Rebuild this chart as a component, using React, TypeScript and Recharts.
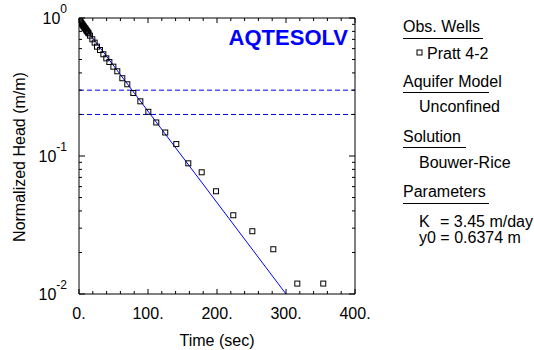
import { ComposedChart, Line, ReferenceLine, Scatter, XAxis, YAxis } from 'recharts';

// observed normalized head, Pratt 4-2
const OBS_TIME = [1, 2, 3, 4, 5, 6, 7, 8, 9, 10, 11, 12, 13, 14, 16, 19.3, 22.7, 26.1, 30.4, 35.3, 39.6, 44, 49.8, 55.5, 62.8, 70, 78.7, 88.9, 100.5, 112, 125, 141, 158.4, 177.8, 198.6, 223.6, 251.2, 281.6, 316.4, 354];
const OBS_HEAD = [0.955, 0.94, 0.925, 0.91, 0.895, 0.88, 0.865, 0.85, 0.84, 0.825, 0.81, 0.8, 0.785, 0.775, 0.745, 0.701, 0.663, 0.62, 0.586, 0.546, 0.51, 0.48, 0.444, 0.411, 0.366, 0.331, 0.286, 0.249, 0.209, 0.175, 0.148, 0.122, 0.0885, 0.0762, 0.0555, 0.0372, 0.0285, 0.0211, 0.0119, 0.0119];

// Bouwer-Rice fit (straight on semi-log)
const FIT_TIME = [0, 300];
const FIT_HEAD = [0.97, 0.01];

const CRITICAL_HEADS = [0.3, 0.2];

const X_TICKS = [0, 20, 40, 60, 80, 100, 120, 140, 160, 180, 200, 220, 240, 260, 280, 300, 320, 340, 360, 380, 400];
const X_LABELS = [0, 100, 200, 300, 400];
const Y_TICKS = [0.01, 0.02, 0.03, 0.04, 0.05, 0.06, 0.07, 0.08, 0.09, 0.1, 0.2, 0.3, 0.4, 0.5, 0.6, 0.7, 0.8, 0.9, 1];
const Y_DECADES = [0.01, 0.1, 1];

const obsData = OBS_TIME.map((t, i) => ({ t, h: OBS_HEAD[i] }));
const fitData = FIT_TIME.map((t, i) => ({ t, h: FIT_HEAD[i] }));

const FONT = "'Liberation Sans', Arial, sans-serif";
const BLUE = '#0000ff';

function BottomTick({ x, y, payload }: any) {
    const major = X_LABELS.includes(payload.value);
    return (
        <g>
            <line x1={x} x2={x} y1={y} y2={y - (major ? 5 : 3)} stroke="#000" />
            {major && (
                <text x={x} y={y + 25} textAnchor="middle" fontFamily={FONT} fontSize={16} fill="#000">
                    {payload.value}.
                </text>
            )}
        </g>
    );
}

function TopTick({ x, y, payload }: any) {
    const major = X_LABELS.includes(payload.value);
    return <line x1={x} x2={x} y1={y} y2={y + (major ? 5 : 3)} stroke="#000" />;
}

function LeftTick({ x, y, payload }: any) {
    const major = Y_DECADES.includes(payload.value);
    const exp = Math.round(Math.log10(payload.value));
    return (
        <g>
            <line x1={x} x2={x + (major ? 6 : 3)} y1={y} y2={y} stroke="#000" />
            {major && (
                <text x={x - 12} y={y + 5.5} textAnchor="end" fontFamily={FONT} fontSize={16} fill="#000">
                    10
                    <tspan dy={-11} fontSize={12}>{exp}</tspan>
                </text>
            )}
        </g>
    );
}

function RightTick({ x, y, payload }: any) {
    const major = Y_DECADES.includes(payload.value);
    return <line x1={x} x2={x - (major ? 6 : 3)} y1={y} y2={y} stroke="#000" />;
}

const Marker = (p: any) => (
    <rect x={p.cx - 2.5} y={p.cy - 2.5} width={5} height={5} fill="none" stroke="#000" strokeWidth={1} />
);

const txt = { fontFamily: FONT, fontSize: 16, fill: '#000' };

export default function App() {
    return (
        <div style={{ position: 'absolute', left: 0, top: 0, width: 534, height: 350, background: '#fff' }}>
            <ComposedChart width={534} height={350} data={obsData} margin={{ top: 17, right: 178, bottom: 55, left: 78 }}>
                <XAxis xAxisId="b" dataKey="t" type="number" domain={[0, 400]} ticks={X_TICKS} interval={0}
                    height={1} tickSize={0} tickMargin={0} tickLine={false} tick={BottomTick}
                    axisLine={{ stroke: '#000' }} allowDataOverflow />
                <XAxis xAxisId="t" orientation="top" dataKey="t" type="number" domain={[0, 400]} ticks={X_TICKS} interval={0}
                    height={1} tickSize={0} tickMargin={0} tickLine={false} tick={TopTick}
                    axisLine={{ stroke: '#000' }} allowDataOverflow />
                <YAxis yAxisId="l" type="number" scale="log" domain={[0.01, 1]} ticks={Y_TICKS} interval={0}
                    width={1} tickSize={0} tickMargin={0} tickLine={false} tick={LeftTick}
                    axisLine={{ stroke: '#000' }} allowDataOverflow />
                <YAxis yAxisId="r" orientation="right" type="number" scale="log" domain={[0.01, 1]} ticks={Y_TICKS} interval={0}
                    width={1} tickSize={0} tickMargin={0} tickLine={false} tick={RightTick}
                    axisLine={{ stroke: '#000' }} allowDataOverflow />
                {CRITICAL_HEADS.map((v) => (
                    <ReferenceLine key={v} xAxisId="b" yAxisId="l" y={v} stroke={BLUE} strokeDasharray="5 3" />
                ))}
                <Line xAxisId="b" yAxisId="l" data={fitData} dataKey="h" stroke={BLUE} strokeWidth={1}
                    dot={false} activeDot={false} isAnimationActive={false} />
                <Scatter xAxisId="b" yAxisId="l" data={obsData} dataKey="h" shape={Marker} isAnimationActive={false} />
            </ComposedChart>
            <svg width={534} height={350} style={{ position: 'absolute', left: 0, top: 0, pointerEvents: 'none' }}>
                <text x={24.5} y={157} transform="rotate(-90 24.5 157)" textAnchor="middle" {...txt}>
                    Normalized Head (m/m)
                </text>
                <text x={217} y={346} textAnchor="middle" {...txt}>Time (sec)</text>
                <text x={348} y={45} textAnchor="end" fontFamily={FONT} fontSize={22} fontWeight="bold" fill={BLUE}>
                    AQTESOLV
                </text>

                <text x={403} y={32} {...txt}>Obs. Wells</text>
                <line x1={403} x2={483} y1={38.5} y2={38.5} stroke="#000" />
                <rect x={417} y={50} width={5} height={5} fill="none" stroke="#000" />
                <text x={427} y={59} {...txt}>Pratt 4-2</text>

                <text x={403} y={87} {...txt}>Aquifer Model</text>
                <line x1={403} x2={489} y1={92.5} y2={92.5} stroke="#000" />
                <text x={419} y={112} {...txt}>Unconfined</text>

                <text x={403} y={142} {...txt}>Solution</text>
                <line x1={403} x2={466} y1={147.5} y2={147.5} stroke="#000" />
                <text x={419} y={168} {...txt}>Bouwer-Rice</text>

                <text x={403} y={197} {...txt}>Parameters</text>
                <line x1={403} x2={489} y1={203.5} y2={203.5} stroke="#000" />
                <text x={419} y={227} {...txt}>K</text>
                <text x={440} y={227} {...txt}>= 3.45 m/day</text>
                <text x={419} y={243} {...txt}>y0 = 0.6374 m</text>
            </svg>
        </div>
    );
}
